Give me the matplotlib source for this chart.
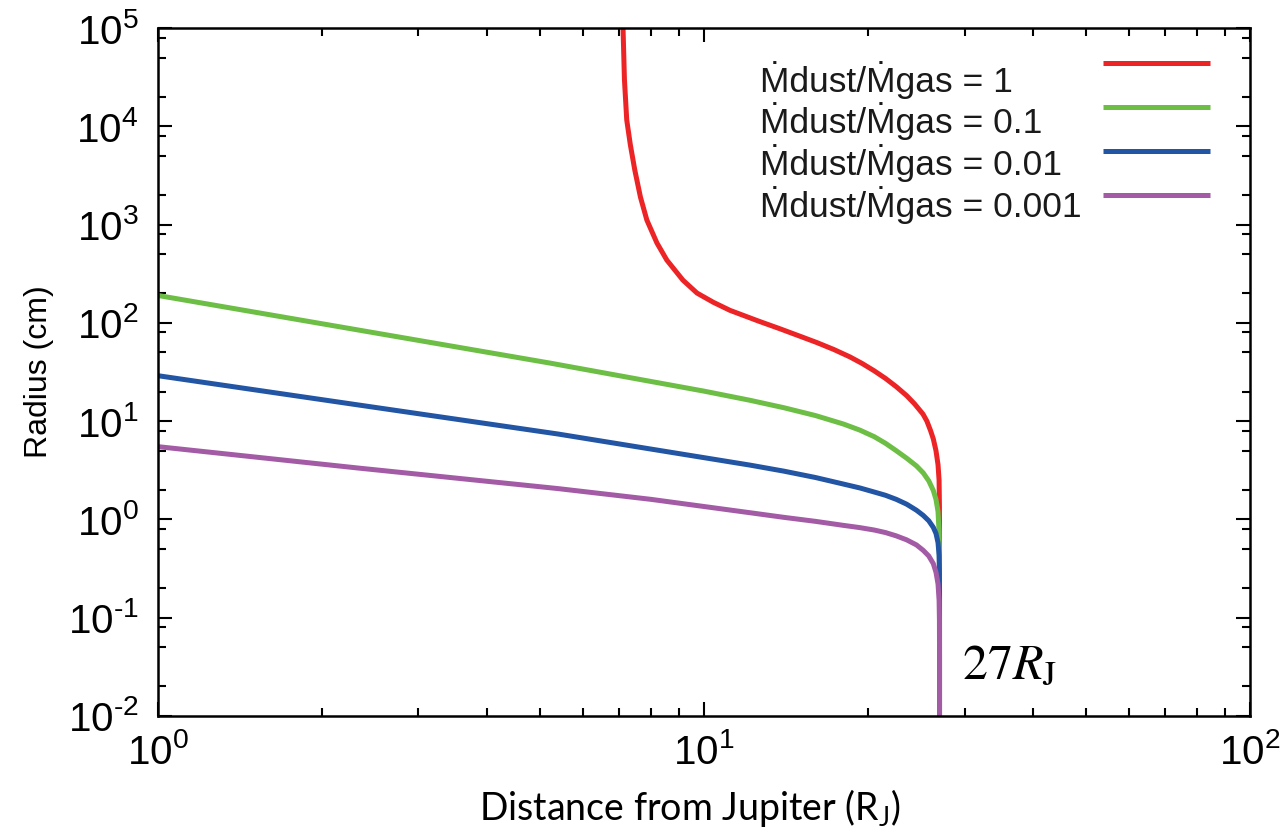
import numpy as np
import matplotlib
matplotlib.use("Agg")
import matplotlib.pyplot as plt
from matplotlib.ticker import LogLocator, NullFormatter, FuncFormatter

# values (x in R_J, radius in cm)
red_x = [7.08, 7.11, 7.15, 7.22, 7.33, 7.47, 7.65, 7.86, 8.2, 8.55, 9.15, 9.71, 10.4,
         11.16, 12.6, 13.78, 15.0, 16.1, 17.3, 18.51, 19.5, 20.5, 21.5, 22.5, 23.5,
         24.3, 25.18, 25.6, 26.0, 26.3, 26.6, 26.83, 26.95, 26.99, 26.999, 27.0]
red_y = [2e5, 9.5e4, 3e4, 1.16e4, 6500, 3580, 1900, 1110, 650, 435, 272, 201, 162,
         134, 104, 87, 73, 63, 53.5, 45, 38.5, 32.5, 27.2, 22.4, 18.2,
         15.0, 11.8, 10.0, 8.0, 6.6, 5.0, 3.6, 2.5, 1.35, 0.6, 1e-3]

green_x = [1.0, 2.33, 5.22, 10.0, 12.14, 14.0, 16.0, 18.0, 19.3, 20.5, 21.5, 22.5,
           23.5, 24.5, 25.2, 25.8, 26.3, 26.6, 26.83, 26.95, 26.99, 26.999, 27.0]
green_y = [190, 84.5, 39, 20.2, 16.3, 13.7, 11.4, 9.35, 8.1, 6.95, 5.95, 5.0,
           4.2, 3.5, 2.98, 2.47, 1.97, 1.6, 1.2, 0.75, 0.4, 0.17, 1e-3]

blue_x = [1.0, 2.33, 5.4, 12.14, 14.0, 16.0, 18.0, 19.3, 20.5, 21.5, 22.5, 23.5,
          24.5, 25.2, 25.8, 26.3, 26.6, 26.83, 26.95, 26.99, 26.999, 27.0]
blue_y = [29, 14.6, 7.4, 3.57, 3.1, 2.67, 2.29, 2.09, 1.9, 1.76, 1.6, 1.43,
          1.24, 1.1, 0.97, 0.83, 0.72, 0.58, 0.43, 0.29, 0.18, 1e-3]

purple_x = [1.0, 2.33, 5.4, 8.0, 12.14, 14.0, 16.0, 18.0, 19.3, 20.5, 21.5, 22.5,
            23.5, 24.5, 25.2, 25.8, 26.3, 26.6, 26.83, 26.95, 26.99, 26.999, 27.0]
purple_y = [5.5, 3.33, 2.06, 1.6, 1.17, 1.05, 0.956, 0.87, 0.825, 0.78, 0.735, 0.68,
            0.62, 0.55, 0.485, 0.425, 0.355, 0.29, 0.22, 0.15, 0.095, 0.05, 1e-3]

labels = ["\u1E40dust/\u1E40gas = 1", "\u1E40dust/\u1E40gas = 0.1",
          "\u1E40dust/\u1E40gas = 0.01", "\u1E40dust/\u1E40gas = 0.001"]
colors = ["#EC2426", "#6CBE45", "#2255A4", "#A35BA6"]

x_lim = (1, 100)
y_lim = (1e-2, 1e5)

plt.rcParams['font.family'] = ['Liberation Sans', 'DejaVu Sans']
plt.rcParams['mathtext.fontset'] = 'custom'
plt.rcParams['mathtext.rm'] = 'Liberation Sans'
plt.rcParams['mathtext.it'] = 'Liberation Sans:italic'
plt.rcParams['axes.unicode_minus'] = False


def make_pow10(lo, hi):
    # label only the decades inside the shown range
    def fmt(v, pos):
        if v < lo * 0.999 or v > hi * 1.001:
            return ''
        e = int(round(np.log10(v)))
        if e < 0:
            return r'$\mathdefault{10^{\text{-}%d}}$' % (-e)
        return r'$\mathdefault{10^{%d}}$' % e
    return fmt


fig = plt.figure(figsize=(12.83, 8.31), dpi=100)
ax = fig.add_axes([0.1231, 0.1384, 0.8512, 0.8279])

series = [(red_x, red_y), (green_x, green_y), (blue_x, blue_y), (purple_x, purple_y)]
for (xs, ys), c in zip(series, colors):
    ax.plot(xs, ys, color=c, lw=3.6, solid_capstyle='butt', solid_joinstyle='round')

ax.set_xscale('log')
ax.set_yscale('log')
ax.set_xlim(*x_lim)
ax.set_ylim(*y_lim)

ax.yaxis.set_major_locator(LogLocator(base=10, numticks=20))
ax.yaxis.set_minor_locator(LogLocator(base=10, subs=[2, 5, 8], numticks=20))
ax.yaxis.set_minor_formatter(NullFormatter())
ax.yaxis.set_major_formatter(FuncFormatter(make_pow10(*y_lim)))
ax.xaxis.set_minor_locator(LogLocator(base=10, subs=np.arange(2, 10), numticks=20))
ax.xaxis.set_minor_formatter(NullFormatter())
ax.xaxis.set_major_formatter(FuncFormatter(make_pow10(*x_lim)))

ax.tick_params(which='both', direction='in', top=True, right=True, width=1.5)
ax.tick_params(which='major', length=10, labelsize=29)
ax.tick_params(which='minor', length=6)
ax.tick_params(axis='y', which='major', pad=14)
ax.tick_params(axis='x', which='major', pad=12)
for s in ax.spines.values():
    s.set_linewidth(1.8)

ax.set_ylabel("Radius (cm)", fontsize=23, labelpad=10)
ax.set_xlabel("Distance from Jupiter (R$_\\mathregular{J}$)", fontsize=27,
              family='Lato')
ax.xaxis.set_label_coords(0.487, -0.103)

# key, text left and sample line right
text_y = [0.907, 0.8474, 0.7863, 0.7253]
line_y = [0.9491, 0.8852, 0.8212, 0.7573]
for lab, c, ty, ly in zip(labels, colors, text_y, line_y):
    ax.text(0.5513, ty, lab, transform=ax.transAxes, fontsize=25.5, va='baseline',
            ha='left', color='#1a1a1a')
    ax.plot([0.8654, 0.9634], [ly, ly], transform=ax.transAxes, color=c, lw=3.6,
            solid_capstyle='butt')

ax.text(0.736, 0.055, r"$27R_{\mathrm{J}}$", transform=ax.transAxes, fontsize=36,
        math_fontfamily='stix', ha='left', va='baseline')

fig.savefig("out.png", dpi=100)
